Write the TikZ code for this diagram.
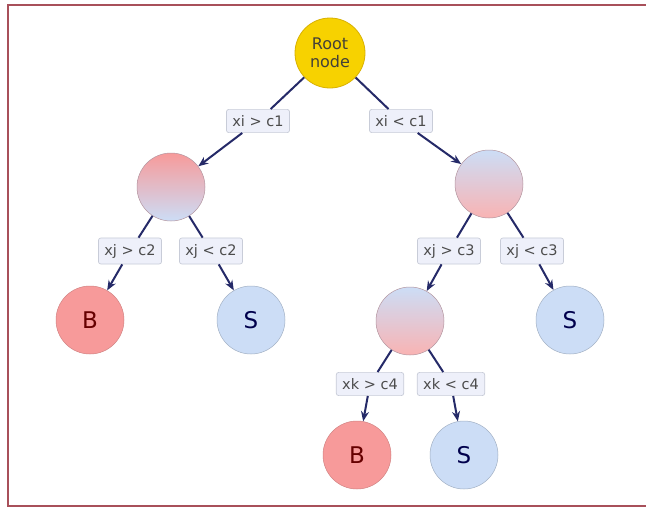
\documentclass[tikz,border=0pt]{standalone}
\usepackage{fontspec}
\setmainfont{DejaVu Sans}
\usetikzlibrary{arrows.meta}
\definecolor{frame}{HTML}{A8505A}
\definecolor{gold}{HTML}{F7D200}
\definecolor{goldline}{HTML}{D8B000}
\definecolor{bred}{HTML}{F79A9A}
\definecolor{sblue}{HTML}{CCDDF6}
\definecolor{edge}{HTML}{252A68}
\definecolor{tagfill}{HTML}{EEF0FA}
\definecolor{tagline}{HTML}{C8CCD8}
\begin{document}
\begin{tikzpicture}[x=1pt,y=-1pt,
  every node/.style={inner sep=0pt},
  root/.style={circle,minimum size=70pt,fill=gold,draw=goldline,line width=0.8pt,
    align=center,font=\fontsize{16}{18}\selectfont,text=black!75!yellow!60!black},
  leafB/.style={circle,minimum size=68pt,fill=bred,draw=bred!85!black,line width=0.5pt,
    font=\fontsize{23}{25}\selectfont,text=red!40!black},
  leafS/.style={circle,minimum size=68pt,fill=sblue,draw=sblue!80!black,line width=0.5pt,
    font=\fontsize{23}{25}\selectfont,text=blue!30!black},
  redtop/.style={circle,minimum size=68pt,top color=bred,bottom color=sblue,
    draw=bred!50!sblue!80!black,line width=0.5pt},
  bluetop/.style={circle,minimum size=68pt,top color=sblue,bottom color=bred!75!white,
    draw=bred!50!sblue!80!black,line width=0.5pt},
  tag/.style={rectangle,rounded corners=2.5pt,fill=tagfill,draw=tagline,line width=0.7pt,
    inner xsep=6pt,inner ysep=6pt,font=\fontsize{14.5}{16}\selectfont,text=black!70},
  link/.style={draw=edge,line width=2pt},
  arr/.style={link,-{Stealth[length=10pt,width=8pt]}}
]
\useasboundingbox (0,0) rectangle (646,507);
\fill[white] (0,0) rectangle (646,507);
\draw[frame,line width=2.2pt] (652,5) -- (8,5) -- (8,506) -- (652,506);

% decision nodes
\node[root] (r) at (330,53) {Root\\node};
\node[redtop] (a) at (171,187) {};
\node[bluetop] (c) at (489,184) {};
\node[bluetop] (d) at (410,321) {};

% leaves
\node[leafB] (b1) at (90,320) {B};
\node[leafS] (s1) at (251,320) {S};
\node[leafS] (s2) at (570,320) {S};
\node[leafB] (b2) at (357,455) {B};
\node[leafS] (s3) at (464,455) {S};

% split conditions
\node[tag] (t1) at (258,121) {xi > c1};
\node[tag] (t2) at (401,121) {xi < c1};
\node[tag] (t3) at (130,251) {xj > c2};
\node[tag] (t4) at (211,251) {xj < c2};
\node[tag] (t5) at (449,251) {xj > c3};
\node[tag] (t6) at (532,251) {xj < c3};
\node[tag] (t7) at (370,384) {xk > c4};
\node[tag] (t8) at (451,384) {xk < c4};

% branches
\draw[link] (r) -- (t1); \draw[arr] (t1) -- (a);
\draw[link] (r) -- (t2); \draw[arr] (t2) -- (c);
\draw[link] (a) -- (t3); \draw[arr] (t3) -- (b1);
\draw[link] (a) -- (t4); \draw[arr] (t4) -- (s1);
\draw[link] (c) -- (t5); \draw[arr] (t5) -- (d);
\draw[link] (c) -- (t6); \draw[arr] (t6) -- (s2);
\draw[link] (d) -- (t7); \draw[arr] (t7) -- (b2);
\draw[link] (d) -- (t8); \draw[arr] (t8) -- (s3);
\end{tikzpicture}
\end{document}
